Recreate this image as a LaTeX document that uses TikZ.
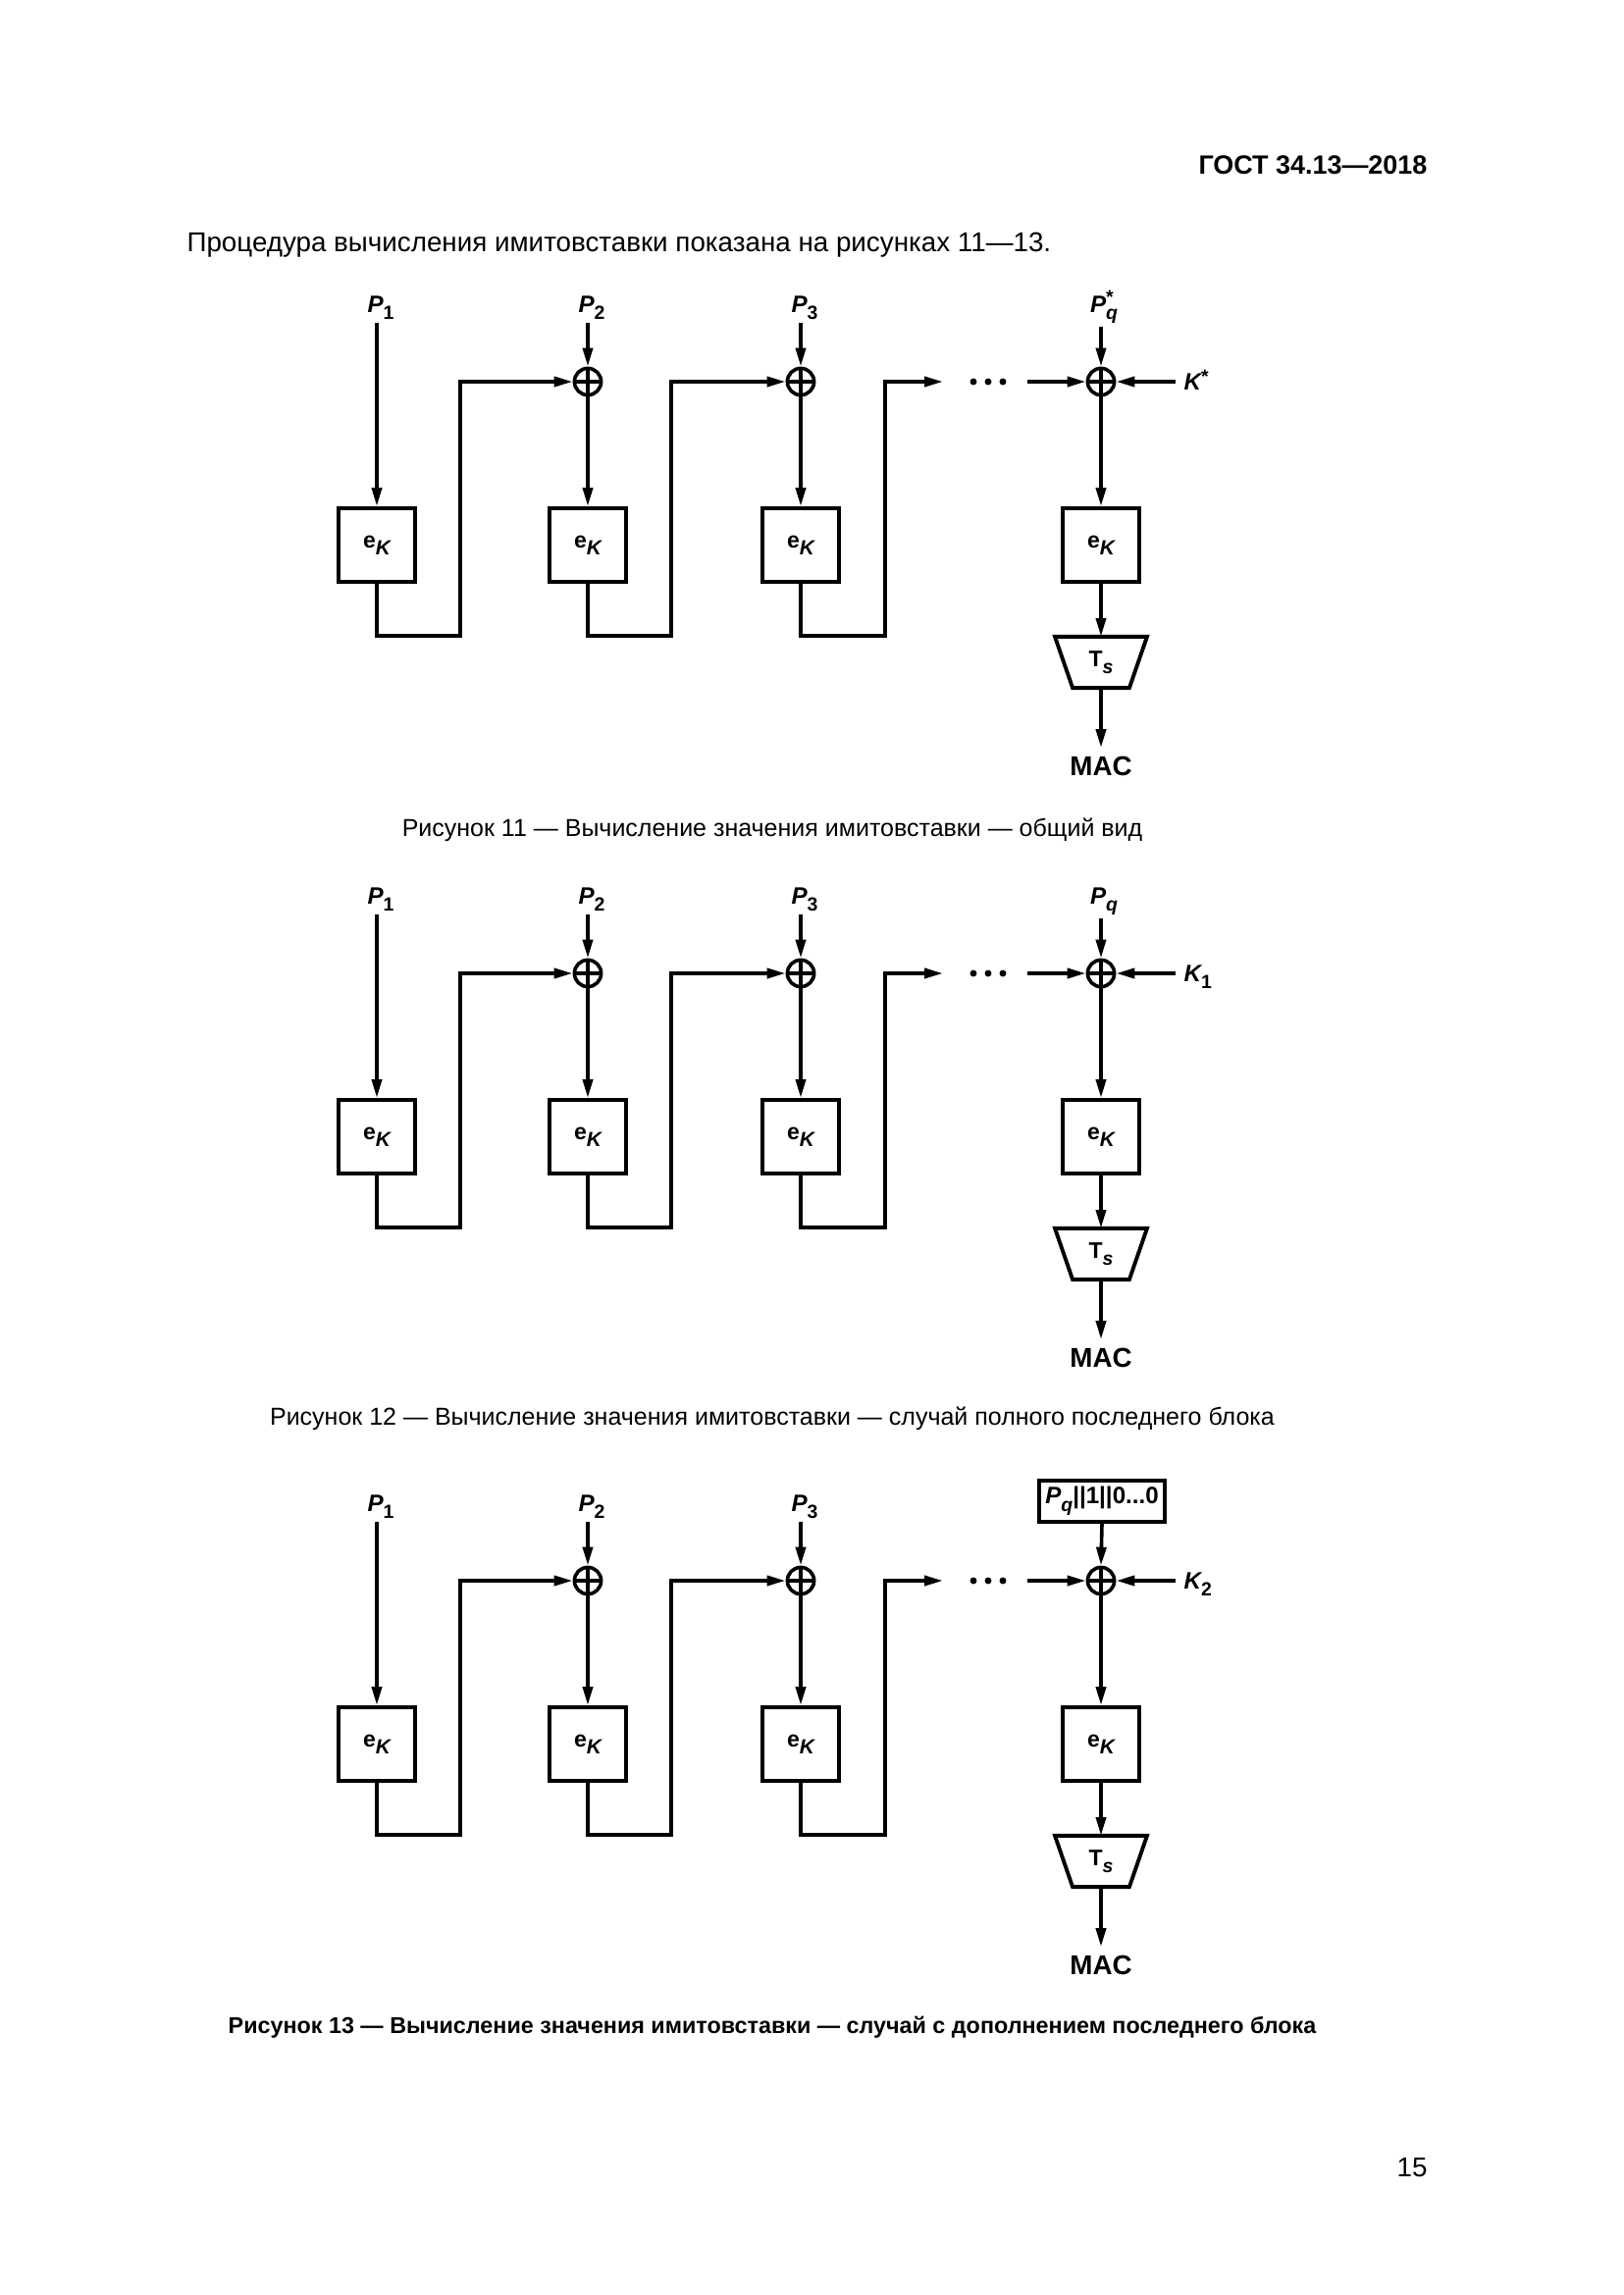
\documentclass[tikz,border=0pt]{standalone}
\usepackage{fontspec}
\setmainfont{Liberation Sans}
\usetikzlibrary{arrows.meta}

\newcommand\sbs[1]{\raisebox{-2.8pt}{\fontsize{7}{7}\selectfont #1}}
\newcommand\Plab[1]{{\itshape P}\sbs{#1}}
\newcommand\ekl{e\raisebox{-2.5pt}{\fontsize{7.5}{8}\selectfont\itshape K}}
\newcommand\tsl{T\raisebox{-2.5pt}{\fontsize{7}{7}\selectfont\itshape s}}

\tikzset{
  x=0.36pt, y=-0.36pt,
  ln/.style={line width=1.3pt},
  arr/.style={ln, -{Triangle[length=6.8pt,width=3.6pt]}},
  boxln/.style={line width=1.4pt, line join=miter},
  ebox/.style={draw, line width=1.4pt, minimum width=28pt, minimum height=27pt, inner sep=0pt,
    font=\fontsize{8.3}{9}\selectfont\bfseries},
  xor/.style={circle, draw, line width=1.3pt, minimum size=9.8pt, inner sep=0pt,
    path picture={\draw[line width=1.1pt] (path picture bounding box.north) -- (path picture bounding box.south)
      (path picture bounding box.west) -- (path picture bounding box.east);}},
  lab/.style={inner sep=0.8pt, anchor=base, font=\fontsize{8.7}{10}\selectfont\bfseries},
  klab/.style={inner sep=0pt, anchor=base west, font=\fontsize{8.7}{10}\selectfont\bfseries},
  tsn/.style={inner sep=0pt, minimum width=20pt, minimum height=18.4pt, font=\fontsize{8.3}{9}\selectfont\bfseries},
  mac/.style={inner sep=0pt, anchor=north, font=\fontsize{10}{11}\selectfont\bfseries},
  pbox/.style={draw, line width=1.3pt, minimum width=46pt, minimum height=15.3pt, inner sep=0pt,
    font=\fontsize{8.7}{10}\selectfont\bfseries},
  txt/.style={inner sep=0pt, font=\fontsize{10}{12}\selectfont},
  captxt/.style={inner sep=0pt, anchor=base, font=\fontsize{9}{11}\selectfont},
}

% common part of each chain; #1 = key label
\newcommand\chainbody[1]{%
  \node[lab] (P1) at (388,318) {\Plab{1}};
  \node[lab] (P2) at (603,318) {\Plab{2}};
  \node[lab] (P3) at (820,318) {\Plab{3}};
  \node[xor] (x2) at (599,389) {};
  \node[xor] (x3) at (816,389) {};
  \node[xor] (x4) at (1122,389) {};
  \node[ebox] (e1) at (384,555.5) {\ekl};
  \node[ebox] (e2) at (599,555.5) {\ekl};
  \node[ebox] (e3) at (816,555.5) {\ekl};
  \node[ebox] (e4) at (1122,555.5) {\ekl};
  \node[tsn] (Ts) at (1122,675) {\tsl};
  \draw[boxln] ([xshift=-16.9pt]Ts.north) -- ([xshift=16.9pt]Ts.north)
     -- ([xshift=10.4pt]Ts.south) -- ([xshift=-10.4pt]Ts.south) -- cycle;
  \node[mac] (MAC) at (1122,771) {MAC};
  \node[klab] (K) at (1206,397) {#1};
  \coordinate (j1) at (469,648);
  \coordinate (j2) at (684,648);
  \coordinate (j3) at (902,648);
  \coordinate (d1) at (961,389);
  \coordinate (d2) at (1047,389);
  \draw[arr] (e1.north |- P1.south) -- (e1.north);
  \draw[arr] (x2 |- P2.south) -- (x2.north);
  \draw[arr] (x3 |- P3.south) -- (x3.north);
  \draw[arr] (x2.south) -- (e2.north);
  \draw[arr] (x3.south) -- (e3.north);
  \draw[arr] (x4.south) -- (e4.north);
  \draw[arr] (e1.south) |- (j1) |- (x2.west);
  \draw[arr] (e2.south) |- (j2) |- (x3.west);
  \draw[arr] (e3.south) |- (j3) |- (d1);
  \fill (992,389) circle (1.25pt) (1007,389) circle (1.25pt) (1022,389) circle (1.25pt);
  \draw[arr] (d2) -- (x4.west);
  \draw[arr, shorten <=2.9pt] (K.west |- x4.east) -- (x4.east);
  \draw[arr] (e4.south) -- (Ts.north);
  \draw[arr, shorten >=3.2pt] (Ts.south) -- (MAC.north);
}

\begin{document}
\begin{tikzpicture}
\fill[white] (0,0) rectangle (1654,2339);
\useasboundingbox (0,0) rectangle (1654,2339);

\node[txt, anchor=base east, font=\fontsize{9.7}{12}\selectfont\bfseries] (hdr) at (1455,177) {ГОСТ 34.13—2018};
\node[txt, anchor=base west] (intro) at (190,256) {Процедура вычисления имитовставки показана на рисунках 11—13.};

% Figure 11
\begin{scope}[name prefix=a-]
  \chainbody{{\itshape K}\raisebox{2.5pt}{\fontsize{7}{7}\selectfont *}}
  \node[lab] (Pq) at (1125,318) {{\itshape P}\rlap{\raisebox{3.2pt}{\fontsize{7}{7}\selectfont *}}\sbs{\itshape q}};
  \draw[arr] (x4 |- Pq.south) -- (x4.north);
\end{scope}
\node[captxt] (cap11) at (787,852) {Рисунок 11 — Вычисление значения имитовставки — общий вид};

% Figure 12
\begin{scope}[name prefix=b-, yshift={-603*0.36pt}]
  \chainbody{{\itshape K}\sbs{1}}
  \node[lab] (Pq) at (1125,318) {{\itshape P}\sbs{\itshape q}};
  \draw[arr] (x4 |- Pq.south) -- (x4.north);
\end{scope}
\node[captxt] (cap12) at (787,1452) {Рисунок 12 — Вычисление значения имитовставки — случай полного последнего блока};

% Figure 13
\begin{scope}[name prefix=c-, yshift={-1222*0.36pt}]
  \chainbody{{\itshape K}\sbs{2}}
  \node[pbox] (Pq) at (1123,308) {{\itshape P}\sbs{\itshape q}||1||0...0};
  \draw[arr] (Pq.south) -- (x4.north);
\end{scope}
\node[captxt, font=\fontsize{8.4}{11}\selectfont\bfseries] (cap13) at (787,2072) {Рисунок 13 — Вычисление значения имитовставки — случай с дополнением последнего блока};

\node[txt, anchor=base east] (pnum) at (1455,2218) {15};
\end{tikzpicture}
\end{document}
